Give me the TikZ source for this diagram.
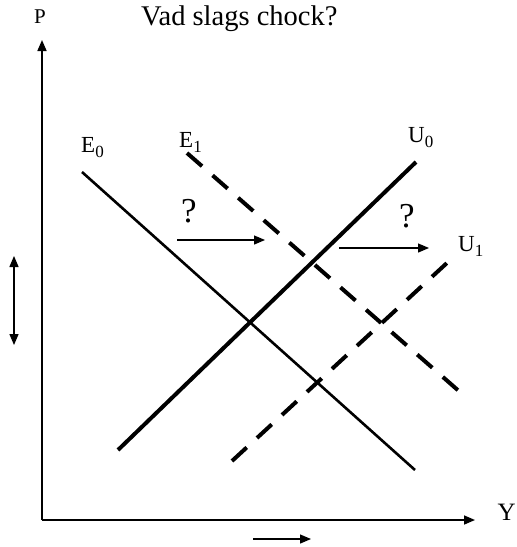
\documentclass[tikz,border=0pt]{standalone}
\usepackage{fontspec}
\setmainfont{Liberation Serif}
\usetikzlibrary{arrows.meta}
\newcommand{\sbs}[1]{\raisebox{-5pt}{\fontsize{17}{17}\selectfont #1}}
\begin{document}
\begin{tikzpicture}[x=1pt,y=-1pt,
  axisline/.style={line width=1.6pt,-{Triangle[length=11pt,width=9pt]}},
  movearr/.style={line width=1.3pt,-{Triangle[length=11pt,width=9pt]}},
  lbl/.style={font=\fontsize{23}{26}\selectfont,inner sep=0pt,anchor=base west},
  big/.style={font=\fontsize{28.5}{30}\selectfont,inner sep=0pt,anchor=base west},
  plbl/.style={font=\fontsize{21}{24}\selectfont,inner sep=0pt,anchor=base west},
  ylbl/.style={font=\fontsize{25}{28}\selectfont,inner sep=0pt,anchor=base east},
  qm/.style={font=\fontsize{35}{38}\selectfont,inner sep=0pt,anchor=base},
  eline/.style={line width=2.6pt},
  uline/.style={line width=4pt},
  dsh/.style={line width=4pt,dash pattern=on 20pt off 14pt}]
\useasboundingbox (0,0) rectangle (517,547);
\coordinate (o) at (42,520);
\coordinate (ptop) at (42,40);
\coordinate (yend) at (475,520);
\draw[axisline] (o) -- (ptop);
\draw[axisline] (o) -- (yend);
\node[plbl] (P) at (34,23) {P};
\node[big] (title) at (141,25) {Vad slags chock?};
\node[ylbl] (Y) at (516,520) {Y};
% lines
\coordinate (e0a) at (82,172); \coordinate (e0b) at (415,470);
\coordinate (e1a) at (187,153); \coordinate (e1b) at (460,392);
\coordinate (u0a) at (118,450); \coordinate (u0b) at (416,162);
\coordinate (u1a) at (232,461); \coordinate (u1b) at (448,262);
\draw[eline] (e0a) -- (e0b);
\draw[dsh] (e1a) -- (e1b);
\draw[uline] (u0a) -- (u0b);
\draw[dsh] (u1a) -- (u1b);
\node[lbl] (E0) at (81,152) {E\sbs{0}};
\node[lbl] (E1) at (179,147) {E\sbs{1}};
\node[lbl] (U0) at (408,142) {U\sbs{0}};
\node[lbl] (U1) at (458,251) {U\sbs{1}};
% question arrows
\node[qm] (q1) at (189,222) {?};
\node[qm] (q2) at (407,227) {?};
\coordinate (a1s) at (177,240); \coordinate (a1e) at (265,240);
\coordinate (a2s) at (339,248); \coordinate (a2e) at (429,248);
\draw[movearr] (a1s) -- (a1e);
\draw[movearr] (a2s) -- (a2e);
% side arrows
\coordinate (d1) at (14,256); \coordinate (d2) at (14,345);
\draw[line width=1.3pt,{Triangle[length=11pt,width=9pt]}-{Triangle[length=11pt,width=9pt]}] (d1) -- (d2);
\coordinate (b1) at (253,539); \coordinate (b2) at (311,539);
\draw[movearr] (b1) -- (b2);
\end{tikzpicture}
\end{document}
